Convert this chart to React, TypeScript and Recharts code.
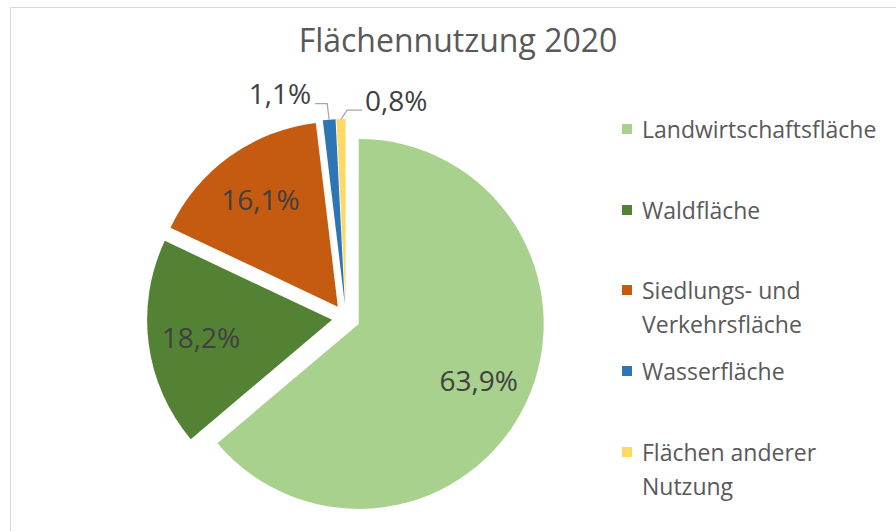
import React from 'react';
import { PieChart, Pie, Cell, Legend } from 'recharts';

const categories = [
  'Landwirtschaftsfläche',
  'Waldfläche',
  'Siedlungs- und Verkehrsfläche',
  'Wasserfläche',
  'Flächen anderer Nutzung',
];
const legendLines = [
  ['Landwirtschaftsfläche'],
  ['Waldfläche'],
  ['Siedlungs- und', 'Verkehrsfläche'],
  ['Wasserfläche'],
  ['Flächen anderer', 'Nutzung'],
];
const values = [63.9, 18.2, 16.1, 1.1, 0.8];
const colors = ['#A9D18E', '#548235', '#C55A11', '#2E75B6', '#FFD966'];
const title = 'Flächennutzung 2020';

const data = categories.map((name, i) => ({ name, value: values[i] }));

const W = 896;
const H = 531;
const CX = 346;
const CY = 318;
const R = 185;
const EXPLODE = 14;
const FONT = '"Open Sans", "Noto Sans", sans-serif';
const RAD = Math.PI / 180;

const total = values.reduce((a, b) => a + b, 0);
const midClockwise = values.map((v, i) => {
  const before = values.slice(0, i).reduce((a, b) => a + b, 0);
  return ((before + v / 2) / total) * 360;
});

const fmt = (v: number) => v.toFixed(1).replace('.', ',') + '%';

const makeLabel = (own: number) => (props: any) => {
  const { cx, cy, midAngle, outerRadius, index, value } = props;
  if (index !== own) return null;
  const cos = Math.cos(-midAngle * RAD);
  const sin = Math.sin(-midAngle * RAD);
  if (own <= 2) {
    const r = outerRadius * 0.715;
    const x = cx + r * cos;
    const y = cy + r * sin;
    return (
      <text
        x={x}
        y={y}
        textAnchor="middle"
        dominantBaseline="central"
        fill="#404040"
        fontSize={28}
        fontFamily={FONT}
      >
        {fmt(value)}
      </text>
    );
  }
  const x0 = cx + outerRadius * cos;
  const y0 = cy + outerRadius * sin;
  if (own === 3) {
    const x1 = x0 - 2;
    const y1 = y0 - 16;
    const x2 = x1 - 12;
    return (
      <g>
        <polyline
          points={`${x0},${y0} ${x1},${y1} ${x2},${y1}`}
          fill="none"
          stroke="#A6A6A6"
          strokeWidth={1.2}
        />
        <text x={x2 - 4} y={y1} textAnchor="end" fill="#404040" fontSize={28} fontFamily={FONT}>
          {fmt(value)}
        </text>
      </g>
    );
  }
  const x1 = x0 + 6;
  const y1 = y0 - 9;
  const x2 = x1 + 15;
  return (
    <g>
      <polyline
        points={`${x0},${y0} ${x1},${y1} ${x2},${y1}`}
        fill="none"
        stroke="#A6A6A6"
        strokeWidth={1.2}
      />
      <text x={x2 + 3} y={y1 + 1} textAnchor="start" fill="#404040" fontSize={28} fontFamily={FONT}>
        {fmt(value)}
      </text>
    </g>
  );
};

const renderLegend = () => (
  <div style={{ fontFamily: FONT }}>
    {legendLines.map((lines, i) => (
      <div key={i} style={{ height: 80.7, display: 'flex', alignItems: 'flex-start' }}>
        <div
          style={{
            width: 10,
            height: 10,
            marginTop: 12,
            marginRight: 10,
            background: colors[i],
            flex: '0 0 auto',
          }}
        />
        <div style={{ fontSize: 23, lineHeight: '34px', color: '#595959', whiteSpace: 'nowrap' }}>
          {lines.map((l, k) => (
            <div key={k}>{l}</div>
          ))}
        </div>
      </div>
    ))}
  </div>
);

export default function App() {
  return (
    <div
      style={{
        position: 'absolute',
        left: 0,
        top: 0,
        width: W,
        height: H,
        overflow: 'hidden',
        background: '#ffffff',
      }}
    >
      <div
        style={{
          position: 'absolute',
          left: 10,
          top: 7,
          width: W + 20,
          height: H + 20,
          borderLeft: '1.5px solid #D9D9D9',
          borderTop: '1.5px solid #D9D9D9',
        }}
      />
      <div
        style={{
          position: 'absolute',
          left: 0,
          top: 23,
          width: 916,
          textAlign: 'center',
          fontFamily: FONT,
          fontSize: 32,
          lineHeight: '34px',
          color: '#595959',
        }}
      >
        {title}
      </div>
      <div style={{ position: 'absolute', left: 0, top: 0 }}>
        <PieChart width={W} height={H} margin={{ top: 0, right: 0, bottom: 0, left: 0 }}>
          {values.map((_, own) => {
            const t = midClockwise[own] * RAD;
            const cx = CX + EXPLODE * Math.sin(t);
            const cy = CY - EXPLODE * Math.cos(t);
            return (
              <Pie
                key={own}
                data={data}
                dataKey="value"
                nameKey="name"
                cx={cx}
                cy={cy}
                outerRadius={R}
                innerRadius={0}
                startAngle={90}
                endAngle={-270}
                stroke="none"
                isAnimationActive={false}
                labelLine={false}
                label={makeLabel(own)}
              >
                {data.map((_, i) => (
                  <Cell key={i} fill={i === own ? colors[i] : 'none'} stroke="none" />
                ))}
              </Pie>
            );
          })}
          <Legend
            content={renderLegend}
            layout="vertical"
            verticalAlign="top"
            align="right"
            wrapperStyle={{ position: 'absolute', left: 622, top: 112, width: 270 }}
          />
        </PieChart>
      </div>
    </div>
  );
}
